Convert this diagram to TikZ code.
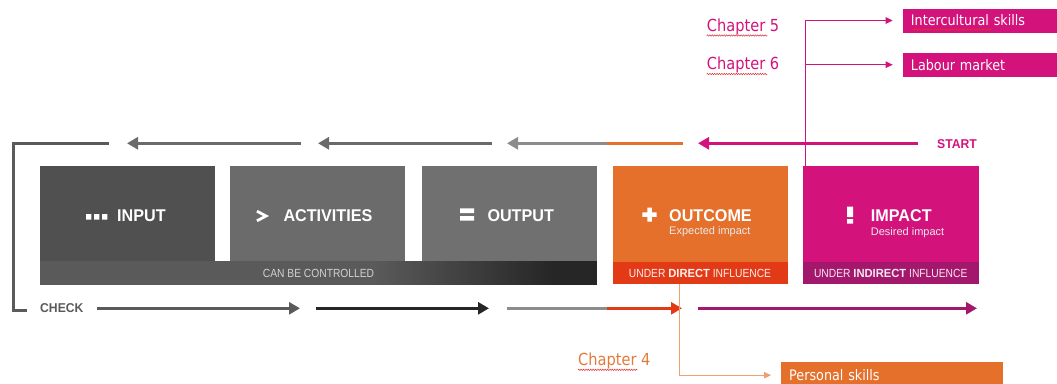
\documentclass[tikz,border=0pt]{standalone}
\usepackage{fontspec}
\setmainfont{Liberation Sans}
\newfontfamily\labb[FakeStretch=0.95]{Liberation Sans}
\newfontfamily\labn[FakeStretch=0.87]{Liberation Sans}
\newfontfamily\chap[FakeStretch=0.88]{DejaVu Sans}
\usetikzlibrary{arrows.meta,decorations.pathmorphing}

\definecolor{inputgray}{HTML}{505050}
\definecolor{actgray}{HTML}{6B6B6B}
\definecolor{outgray}{HTML}{707070}
\definecolor{ctrlgray}{HTML}{5A5A5A}
\definecolor{ctrldark}{HTML}{262626}
\definecolor{outorange}{HTML}{E4702B}
\definecolor{dirred}{HTML}{E23A17}
\definecolor{impmag}{HTML}{D4127C}
\definecolor{indmag}{HTML}{A3186C}
\definecolor{arrgray}{HTML}{6A6A6A}
\definecolor{lightgray}{HTML}{8C8C8C}
\definecolor{chk}{HTML}{5A5A5A}
\definecolor{thinorange}{HTML}{F0A070}
\definecolor{chorange}{HTML}{E27A3A}
\definecolor{squiggle}{HTML}{E03030}

% flat grey for most of the bar, darkening towards its right end
\pgfdeclarehorizontalshading{ctrlshade}{100bp}{color(0bp)=(ctrlgray); color(25bp)=(ctrlgray); color(55bp)=(ctrlgray); color(71bp)=(ctrldark); color(100bp)=(ctrldark)}

\tikzset{
  stage/.style={anchor=north west, inner sep=0, minimum width=175, minimum height=96},
  bar/.style={anchor=north west, inner sep=0, minimum height=22.3},
  title/.style={anchor=base west, inner sep=0, text=white, font=\labb\bfseries\fontsize{17}{17}\selectfont},
  subtitle/.style={anchor=base west, inner sep=0, text=white!92!black, font=\fontsize{11}{11}\selectfont},
  barlabel/.style={inner sep=0, font=\labn\fontsize{11.8}{12}\selectfont},
  fat/.style={line width=3.5pt},
  fattip/.style={fat, -{Triangle[length=11pt,width=12pt]}},
  thin/.style={line width=1pt, -{Triangle[length=7pt,width=6.5pt]}, shorten >=10pt},
  skill/.style={anchor=north west, inner ysep=0, inner xsep=8pt, minimum height=24, align=left, text=white, font=\chap\fontsize{14.5}{15}\selectfont},
  chapter/.style={anchor=west, inner sep=0, font=\chap\fontsize{16.6}{17}\selectfont},
  wavy/.style={draw=squiggle, line width=0.5pt, decorate, decoration={snake, amplitude=0.7pt, segment length=2.4pt}},
}

\begin{document}
\begin{tikzpicture}[x=1pt, y=-1pt]
  \useasboundingbox (0,0) rectangle (1057,383);
  \clip (0,0) rectangle (1057,383);

  % stage boxes
  \node[stage, fill=inputgray, minimum width=174.5] (input) at (40,165.7) {};
  \node[stage, fill=actgray] (activities) at (230,165.7) {};
  \node[stage, fill=outgray] (output) at (421.7,165.7) {};
  \node[stage, fill=outorange] (outcome) at (612.3,165.7) {};
  \node[stage, fill=impmag, minimum width=175.6] (impact) at (802.7,165.7) {};

  % influence bars
  \node[bar, shading=ctrlshade, minimum width=556.7] (ctrlbar) at (40,261.7) {};
  \node[bar, fill=dirred, minimum width=175] (dirbar) at (612.3,261.7) {};
  \node[bar, fill=indmag, minimum width=175.6] (indbar) at (802.7,261.7) {};

  \node[barlabel, text=white!82!black] (ctrltext) at (ctrlbar.center) {CAN BE CONTROLLED};
  \node[barlabel, text=white!92!dirred] (dirtext) at (dirbar.center) {UNDER {\labb\bfseries DIRECT} INFLUENCE};
  \node[barlabel, text=white!90!indmag] (indtext) at (indbar.center) {UNDER {\labb\bfseries INDIRECT} INFLUENCE};

  % icons
  \fill[white] (86,214) rectangle (91.3,219.5) (94,214) rectangle (99.3,219.5) (102,214) rectangle (107.3,219.5);
  \draw[white, line width=2.8pt, miter limit=10] (257,211.2) -- (266,216) -- (257,220.8);
  \fill[white] (460,208.3) rectangle (474,213) (460,216) rectangle (474,220.7);
  \fill[white] (642.3,212.45) rectangle (656.7,216.95) (647.25,207.7) rectangle (651.75,221.7);
  \fill[white] (847,206.5) rectangle (853,217) (847,219) rectangle (853,223.5);

  % stage titles
  \node[title] (tinput) at (117,221.5) {INPUT};
  \node[title] (tact) at (283.3,221.5) {ACTIVITIES};
  \node[title] (tout) at (487.3,221) {OUTPUT};
  \node[title] (toutc) at (669,221) {OUTCOME};
  \node[title] (timp) at (870.7,221) {IMPACT};
  \node[subtitle] (soutc) at (669,234.5) {Expected impact};
  \node[subtitle] (simp) at (870.7,235) {Desired impact};

  % START / CHECK labels
  \node[anchor=base west, inner sep=0, text=impmag, font=\labb\bfseries\fontsize{12.8}{13}\selectfont] (start) at (937,148) {START};
  \node[anchor=base west, inner sep=0, text=chk, font=\labb\bfseries\fontsize{12.8}{13}\selectfont] (check) at (40,312.5) {CHECK};

  % arrow end points, planning direction (top row)
  \coordinate (t1s) at (301,143.3);  \coordinate (t1e) at (127,143.3);
  \coordinate (t2s) at (492,143.3);  \coordinate (t2e) at (318,143.3);
  \coordinate (t3s) at (683,143.3);  \coordinate (t3m) at (607,143.3); \coordinate (t3e) at (507,143.3);
  \coordinate (t4s) at (918,143.3);  \coordinate (t4e) at (698,143.3);
  % arrow end points, checking direction (bottom row)
  \coordinate (b1s) at (97,308.3);   \coordinate (b1e) at (300,308.3);
  \coordinate (b2s) at (316,308.3);  \coordinate (b2e) at (489,308.3);
  \coordinate (b3s) at (507,308.3);  \coordinate (b3m) at (607,308.3); \coordinate (b3e) at (682,308.3);
  \coordinate (b4s) at (698,308.3);  \coordinate (b4e) at (977,308.3);
  % return bracket
  \coordinate (k1) at (109,143.3); \coordinate (k2) at (13,310); \coordinate (k3) at (27,310);

  \draw[fattip, arrgray] (t1s) -- (t1e);
  \draw[fattip, arrgray] (t2s) -- (t2e);
  \draw[fat, outorange] (t3s) -- (t3m);
  \draw[fattip, lightgray] (t3m) -- (t3e);
  \draw[fattip, impmag] (t4s) -- (t4e);

  \draw[line width=3pt, chk] (k1) -| (k2) -- (k3);

  \draw[fattip, ctrlgray] (b1s) -- (b1e);
  \draw[fattip, ctrldark] (b2s) -- (b2e);
  \draw[fat, lightgray] (b3s) -- (b3m);
  \draw[fattip, dirred] (b3m) -- (b3e);
  \draw[fattip, indmag] (b4s) -- (b4e);

  % chapter boxes
  \node[skill, fill=impmag, text width=150, minimum height=24] (ic) at (902.7,8.3) {Intercultural skills};
  \node[skill, fill=impmag, text width=150, minimum height=24.4] (lm) at (902.7,52.3) {Labour market};
  \node[skill, fill=outorange, text width=206, minimum height=26.6] (ps) at (781,361.7) {Personal skills};

  \node[chapter, text=impmag] (ch5) at (706.7,26.7) {Chapter 5};
  \node[chapter, text=impmag] (ch6) at (706.7,65) {Chapter 6};
  \node[chapter, text=chorange] (ch4) at (578,360.7) {Chapter 4};

  % spelling marks under words
  \draw[wavy] (706.7,35.5) -- (767.3,35.5);
  \draw[wavy] (706.7,74) -- (767.3,74);
  \draw[wavy] (578,369.8) -- (637.3,369.8);
  \draw[wavy] (911,29.5) -- (991.7,29.5);

  % links from stages to chapters
  \coordinate (pk) at (805.7,165.7);
  \coordinate (ok) at (679.3,284);
  \draw[thin, impmag] (pk) |- (ic.west);
  \draw[thin, impmag] (pk |- lm.west) -- (lm.west);
  \draw[thin, thinorange] (ok) |- (ps.west);
\end{tikzpicture}
\end{document}
